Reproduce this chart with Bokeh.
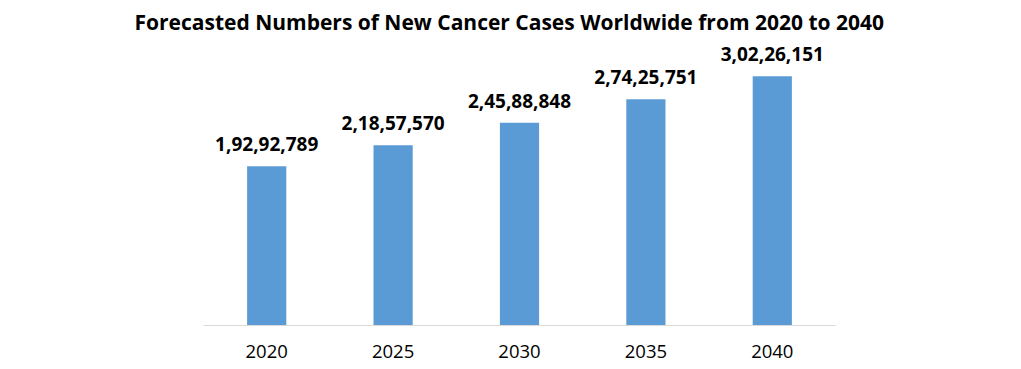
from bokeh.plotting import figure
from bokeh.models import ColumnDataSource, FactorRange, Range1d
from bokeh.core.properties import value
from bokeh.embed import file_html
from bokeh.resources import INLINE

years = ["2020", "2025", "2030", "2035", "2040"]
cases = [19292789, 21857570, 24588848, 27425751, 30226151]
title_text = "Forecasted Numbers of New Cancer Cases Worldwide from 2020 to 2040"


def indian(n):
    s = str(n)
    last3 = s[-3:]
    rest = s[:-3]
    parts = []
    while len(rest) > 2:
        parts.insert(0, rest[-2:])
        rest = rest[:-2]
    if rest:
        parts.insert(0, rest)
    return ",".join(parts + [last3])


labels = [indian(v) for v in cases]
src = ColumnDataSource(dict(x=years, top=cases, label=labels))

p = figure(x_range=FactorRange(*years, range_padding=0), y_range=Range1d(0, 34550000),
           frame_width=632, frame_height=285,
           min_border_left=203, min_border_right=170, min_border_bottom=36, min_border_top=10,
           output_backend="svg", toolbar_location=None, background_fill_color="white",
           border_fill_color="white", outline_line_color=None)

p.title.text = title_text
p.title.align = "left"
p.title.offset = -69
p.title.text_font = "Open Sans"
p.title.text_font_style = "bold"
p.title.text_font_size = "21px"
p.title.text_color = "black"

p.vbar(x="x", top="top", width=0.31, source=src, fill_color="#5B9BD5", line_color=None)
p.text(x="x", y="top", text="label", source=src, text_align="center", text_baseline="bottom",
       y_offset=-15, text_font=value("Open Sans"), text_font_style="bold",
       text_font_size="19px", text_color="black")

p.yaxis.visible = False
p.xgrid.visible = False
p.ygrid.visible = False
p.xaxis.axis_line_color = "#d9d9d9"
p.xaxis.major_tick_line_color = None
p.xaxis.minor_tick_line_color = None
p.xaxis.major_label_text_font = "Open Sans"
p.xaxis.major_label_text_font_size = "18.5px"
p.xaxis.major_label_text_color = "black"
p.xaxis.major_label_standoff = 13

open("out.html", "w").write(file_html(p, INLINE))
